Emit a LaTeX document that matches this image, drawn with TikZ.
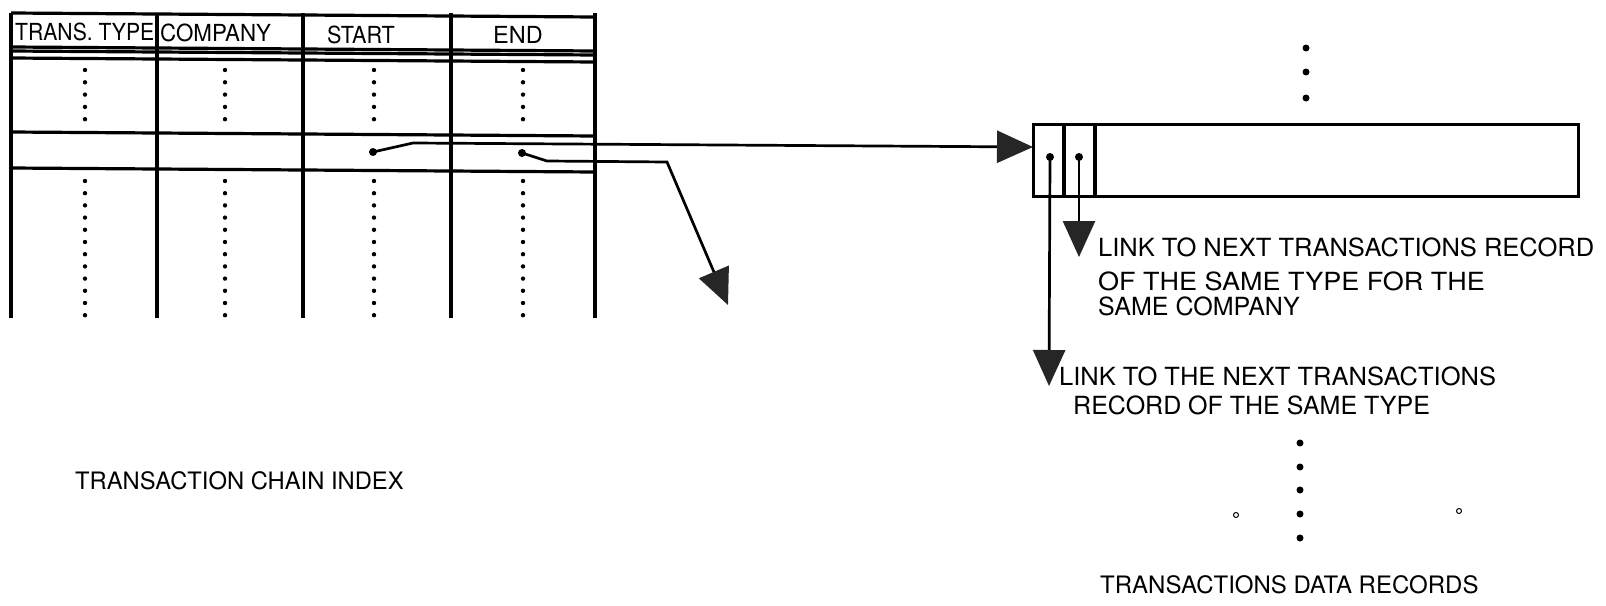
\documentclass[tikz,border=0pt]{standalone}
\usepackage{fontspec}
\setmainfont{TeX Gyre Heros}
\usetikzlibrary{arrows.meta}
\begin{document}
\begin{tikzpicture}[x=1pt,y=-1pt,
  tbl/.style={line width=3.2pt},
  ptr/.style={line width=2.7pt},
  tipa/.style={-{Triangle[length=36pt,width=32pt,color=black!85]}},
  pdot/.style={circle,fill,inner sep=0pt,minimum size=8pt},
  hdr/.style={anchor=base west,inner sep=0pt,font=\fontsize{23.5}{28}\selectfont},
  lbl/.style={anchor=base west,inner sep=0pt,font=\fontsize{25}{30}\selectfont},
  lbs/.style={anchor=base west,inner sep=0pt,font=\fontsize{24}{29}\selectfont}]
\useasboundingbox (0,0) rectangle (1606,605);

% ---- transaction chain index table ----
\foreach \yy in {13,47,51,58,132,168}
  \draw[tbl] (11,\yy) -- (595,{\yy+4});
\foreach \xx in {11,157,303,451,595}
  \draw[tbl] (\xx,13) -- (\xx,318);
\foreach \xx in {85,225,374,523}{
  \foreach \i in {0,...,4}
    \fill (\xx,{70+12.3*\i}) circle (2.2pt);
  \foreach \i in {0,...,11}
    \fill (\xx,{181+12.2*\i}) circle (2.2pt);
}
\node[hdr,xscale=0.9] (h1) at (15,40) {TRANS. TYPE};
\node[hdr,xscale=0.95] (h2) at (160,41) {COMPANY};
\node[hdr,xscale=0.92] (h3) at (327,43) {START};
\node[hdr] (h4) at (493,43) {END};
\node[lbs,xscale=0.99] (tci) at (75,489) {TRANSACTION CHAIN INDEX};

% ---- transactions data record ----
\node[draw,line width=3pt,minimum width=545pt,minimum height=72pt,inner sep=0pt] (rec) at (1305.5,160) {};
\draw[tbl] (1064,124) -- (1064,196);
\draw[tbl] (1095,124) -- (1095,196);
\foreach \yy in {48,72,98}
  \fill (1306,\yy) circle (3.5pt);
\foreach \yy in {443,467,490,514,538}
  \fill (1300,\yy) circle (3.5pt);
\draw[line width=1pt] (1236,515) circle (2.5pt);
\draw[line width=1pt] (1459,511) circle (2.5pt);

% ---- pointers ----
\node[pdot] (sdot) at (373,152) {};
\node[pdot] (edot) at (522,153) {};
\node[pdot] (r1) at (1050,157) {};
\node[pdot] (r2) at (1079,157) {};
\coordinate (sbend) at (413,143);
\coordinate (recin) at (1033,147);
\coordinate (ebend1) at (547,161);
\coordinate (ebend2) at (667,162);
\coordinate (eout) at (728,305);
\coordinate (r1end) at (1049,386);
\coordinate (r2end) at (1079,257);
\draw[ptr,tipa] (sdot.center) -- (sbend) -- (recin);
\draw[ptr,tipa] (edot.center) -- (ebend1) -- (ebend2) -- (eout);
\draw[ptr,tipa] (r1.center) -- (r1end);
\draw[ptr,tipa] (r2.center) -- (r2end);

% ---- labels ----
\node[lbl,xscale=1.02] (l1a) at (1098,256) {LINK TO NEXT TRANSACTIONS RECORD};
\node[lbl,xscale=1.08] (l1b) at (1098,290) {OF THE SAME TYPE FOR THE};
\node[lbl] (l1c) at (1098,315) {SAME COMPANY};
\node[lbl,xscale=1.02] (l2a) at (1059,385) {LINK TO THE NEXT TRANSACTIONS};
\node[lbl] (l2b) at (1073,414) {RECORD OF THE SAME TYPE};
\node[lbs] (tdr) at (1100,593) {TRANSACTIONS DATA RECORDS};
\end{tikzpicture}
\end{document}
